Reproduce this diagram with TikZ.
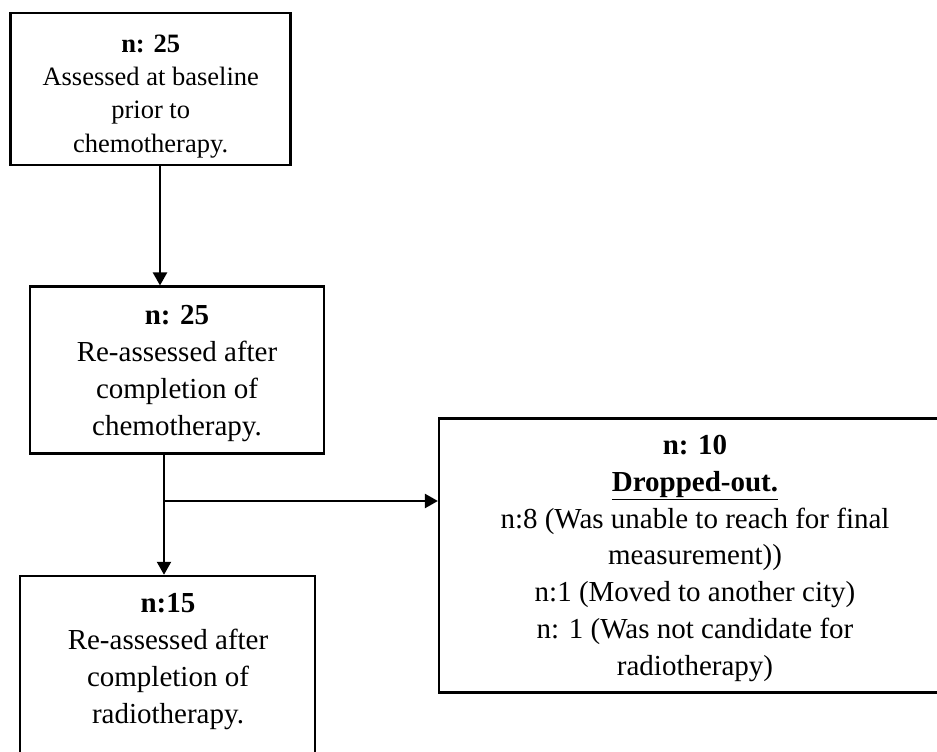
\documentclass[tikz,border=0pt]{standalone}
\usepackage{fontspec}
\setmainfont{Liberation Serif}
\usetikzlibrary{arrows.meta,calc}
\tikzset{
  box/.style={draw=black, line width=2.5pt, fill=white, inner sep=0pt, rectangle},
  txtA/.style={align=center, inner sep=0pt, anchor=base, font=\fontsize{26.5}{33.3}\selectfont},
  txtB/.style={align=center, inner sep=0pt, anchor=base, font=\fontsize{29}{36.7}\selectfont},
  arr/.style={line width=2.3pt, -{Triangle[length=13pt,width=14pt]}},
  ln/.style={line width=2.3pt}
}
\begin{document}
\begin{tikzpicture}[x=1pt,y=-1pt]
\useasboundingbox (0,0) rectangle (937,752);
\clip (0,0) rectangle (937,752);
\fill[white] (0,0) rectangle (937,752);
% boxes
\node[box, minimum width=280pt, minimum height=152pt] (b1) at (150.7,88.9) {};
\node[box, minimum width=294pt, minimum height=166.6pt] (b2) at (177,370) {};
\node[box, minimum width=505.7pt, minimum height=274.4pt] (b3) at (692,555.5) {};
\node[box, minimum width=295pt, minimum height=224pt] (b4) at (167.5,688) {};
% texts (anchored at the baseline of the last line)
\node[txtA] (t1) at (150.7,152) {\textbf{n: 25}\\Assessed at baseline\\prior to\\chemotherapy.};
\node[txtB] (t2) at (177,435) {\textbf{n: 25}\\Re-assessed after\\completion of\\chemotherapy.};
\node[txtB] (t3) at (695,675) {\textbf{n: 10}\\\underline{\textbf{Dropped-out.}}\\n:8 (Was unable to reach for final\\measurement))\\n:1 (Moved to another city)\\n: 1 (Was not candidate for\\radiotherapy)};
\node[txtB] (t4) at (168,723) {\textbf{n:15}\\Re-assessed after\\completion of\\radiotherapy.};
% connectors
\coordinate (xa) at (160,0);
\coordinate (xb) at (164,0);
\coordinate (j) at (164,501);
\draw[arr] (b1.south -| xa) -- (b2.north -| xa);
\draw[ln] (b2.south -| xb) -- (j);
\draw[arr] (j) -- (j -| b3.west);
\draw[arr] (j) -- (b4.north -| xb);
\end{tikzpicture}
\end{document}
